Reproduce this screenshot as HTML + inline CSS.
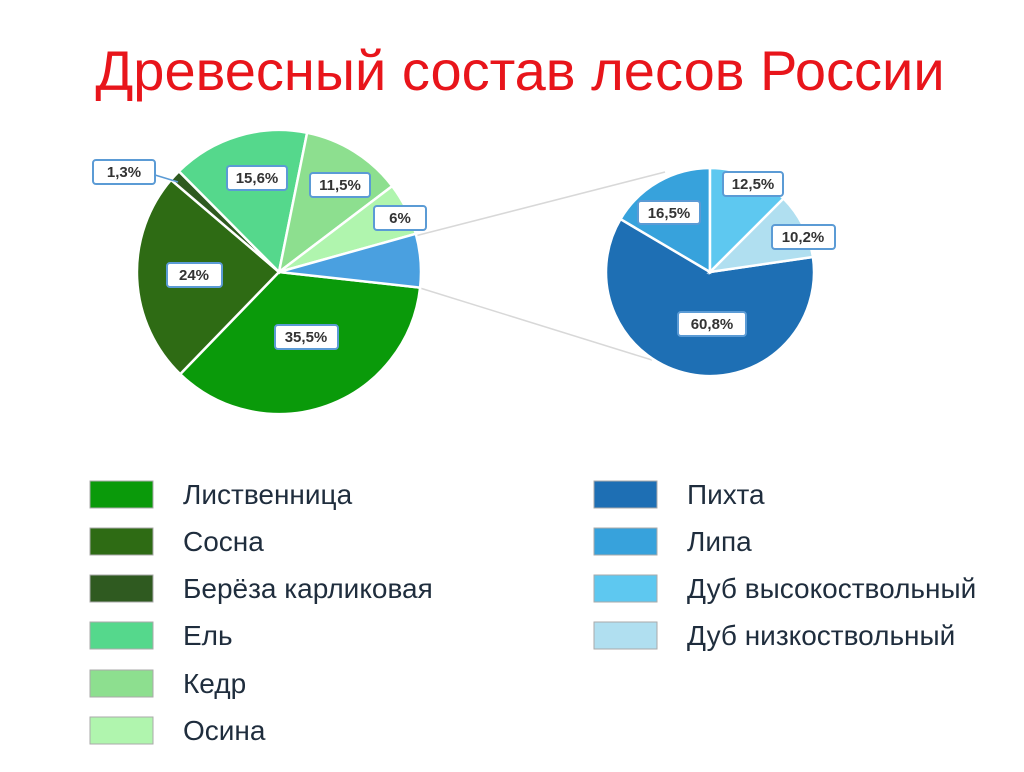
<!DOCTYPE html>
<html><head><meta charset="utf-8"><style>
body{margin:0;background:#fff;width:1024px;height:767px;overflow:hidden;font-family:"Liberation Sans","DejaVu Sans",sans-serif}
</style></head><body>
<svg width="1024" height="767" xmlns="http://www.w3.org/2000/svg" font-family="Liberation Sans, DejaVu Sans, sans-serif">
<text x="520" y="90" text-anchor="middle" font-size="56" fill="#e8151b">Древесный состав лесов России</text>
<line x1="415" y1="236" x2="665" y2="172" stroke="#d8d8d8" stroke-width="1.5"/>
<line x1="420" y1="288" x2="652" y2="360" stroke="#d8d8d8" stroke-width="1.5"/>
<g stroke="#fff" stroke-width="2.5">
<path d="M279,272 L420.1,287.6 A142,142 0 0 1 180.2,374.1 Z" fill="#0a9a0a"/>
<path d="M279,272 L180.2,374.1 A142,142 0 0 1 171.0,179.8 Z" fill="#2e6b14"/>
<path d="M279,272 L171.0,179.8 A142,142 0 0 1 178.9,171.3 Z" fill="#2f5a20"/>
<path d="M279,272 L178.9,171.3 A142,142 0 0 1 307.1,132.8 Z" fill="#55d88c"/>
<path d="M279,272 L307.1,132.8 A142,142 0 0 1 392.2,186.1 Z" fill="#8ddf8f"/>
<path d="M279,272 L392.2,186.1 A142,142 0 0 1 415.8,233.8 Z" fill="#b0f5ae"/>
<path d="M279,272 L415.8,233.8 A142,142 0 0 1 420.1,287.6 Z" fill="#4aa0e0"/>
<path d="M710,272 L812.9,257 A104,104 0 1 1 620.5,219.1 Z" fill="#1e6fb4"/>
<path d="M710,272 L620.5,219.1 A104,104 0 0 1 710,168 Z" fill="#37a2dc"/>
<path d="M710,272 L710,168 A104,104 0 0 1 783.5,198.5 Z" fill="#5ec8f0"/>
<path d="M710,272 L783.5,198.5 A104,104 0 0 1 812.9,257 Z" fill="#b0dff0"/>
</g>
<line x1="155" y1="175" x2="178" y2="182" stroke="#5b9bd5" stroke-width="1.5"/>
<g font-size="15" font-weight="bold" fill="#333" text-anchor="middle">
<g stroke="#5b9bd5" stroke-width="2" fill="#fff">
<rect x="93" y="160" width="62" height="24" rx="3"/>
<rect x="227" y="166" width="60" height="24" rx="3"/>
<rect x="310" y="173" width="60" height="24" rx="3"/>
<rect x="374" y="206" width="52" height="24" rx="3"/>
<rect x="167" y="263" width="55" height="24" rx="3"/>
<rect x="275" y="325" width="63" height="24" rx="3"/>
<rect x="638" y="201" width="62" height="23" rx="3"/>
<rect x="723" y="172" width="60" height="24" rx="3"/>
<rect x="772" y="225" width="63" height="24" rx="3"/>
<rect x="678" y="312" width="68" height="24" rx="3"/>
</g>
<text x="124" y="177">1,3%</text>
<text x="257" y="183">15,6%</text>
<text x="340" y="190">11,5%</text>
<text x="400" y="223">6%</text>
<text x="194" y="280">24%</text>
<text x="306" y="342">35,5%</text>
<text x="669" y="218">16,5%</text>
<text x="753" y="189">12,5%</text>
<text x="803" y="242">10,2%</text>
<text x="712" y="329">60,8%</text>
</g>
<g stroke="#aaa" stroke-width="1">
<rect x="90" y="481" width="63" height="27" fill="#0a9a0a"/>
<rect x="90" y="528" width="63" height="27" fill="#2e6b14"/>
<rect x="90" y="575" width="63" height="27" fill="#2f5a20"/>
<rect x="90" y="622" width="63" height="27" fill="#55d88c"/>
<rect x="90" y="670" width="63" height="27" fill="#8ddf8f"/>
<rect x="90" y="717" width="63" height="27" fill="#b0f5ae"/>
<rect x="594" y="481" width="63" height="27" fill="#1e6fb4"/>
<rect x="594" y="528" width="63" height="27" fill="#37a2dc"/>
<rect x="594" y="575" width="63" height="27" fill="#5ec8f0"/>
<rect x="594" y="622" width="63" height="27" fill="#b0dff0"/>
</g>
<g font-size="28" fill="#1f2d3d">
<text x="183" y="504">Лиственница</text>
<text x="183" y="551">Сосна</text>
<text x="183" y="598">Берёза карликовая</text>
<text x="183" y="645">Ель</text>
<text x="183" y="693">Кедр</text>
<text x="183" y="740">Осина</text>
<text x="687" y="504">Пихта</text>
<text x="687" y="551">Липа</text>
<text x="687" y="598">Дуб высокоствольный</text>
<text x="687" y="645">Дуб низкоствольный</text>
</g>
</svg>
</body></html>
